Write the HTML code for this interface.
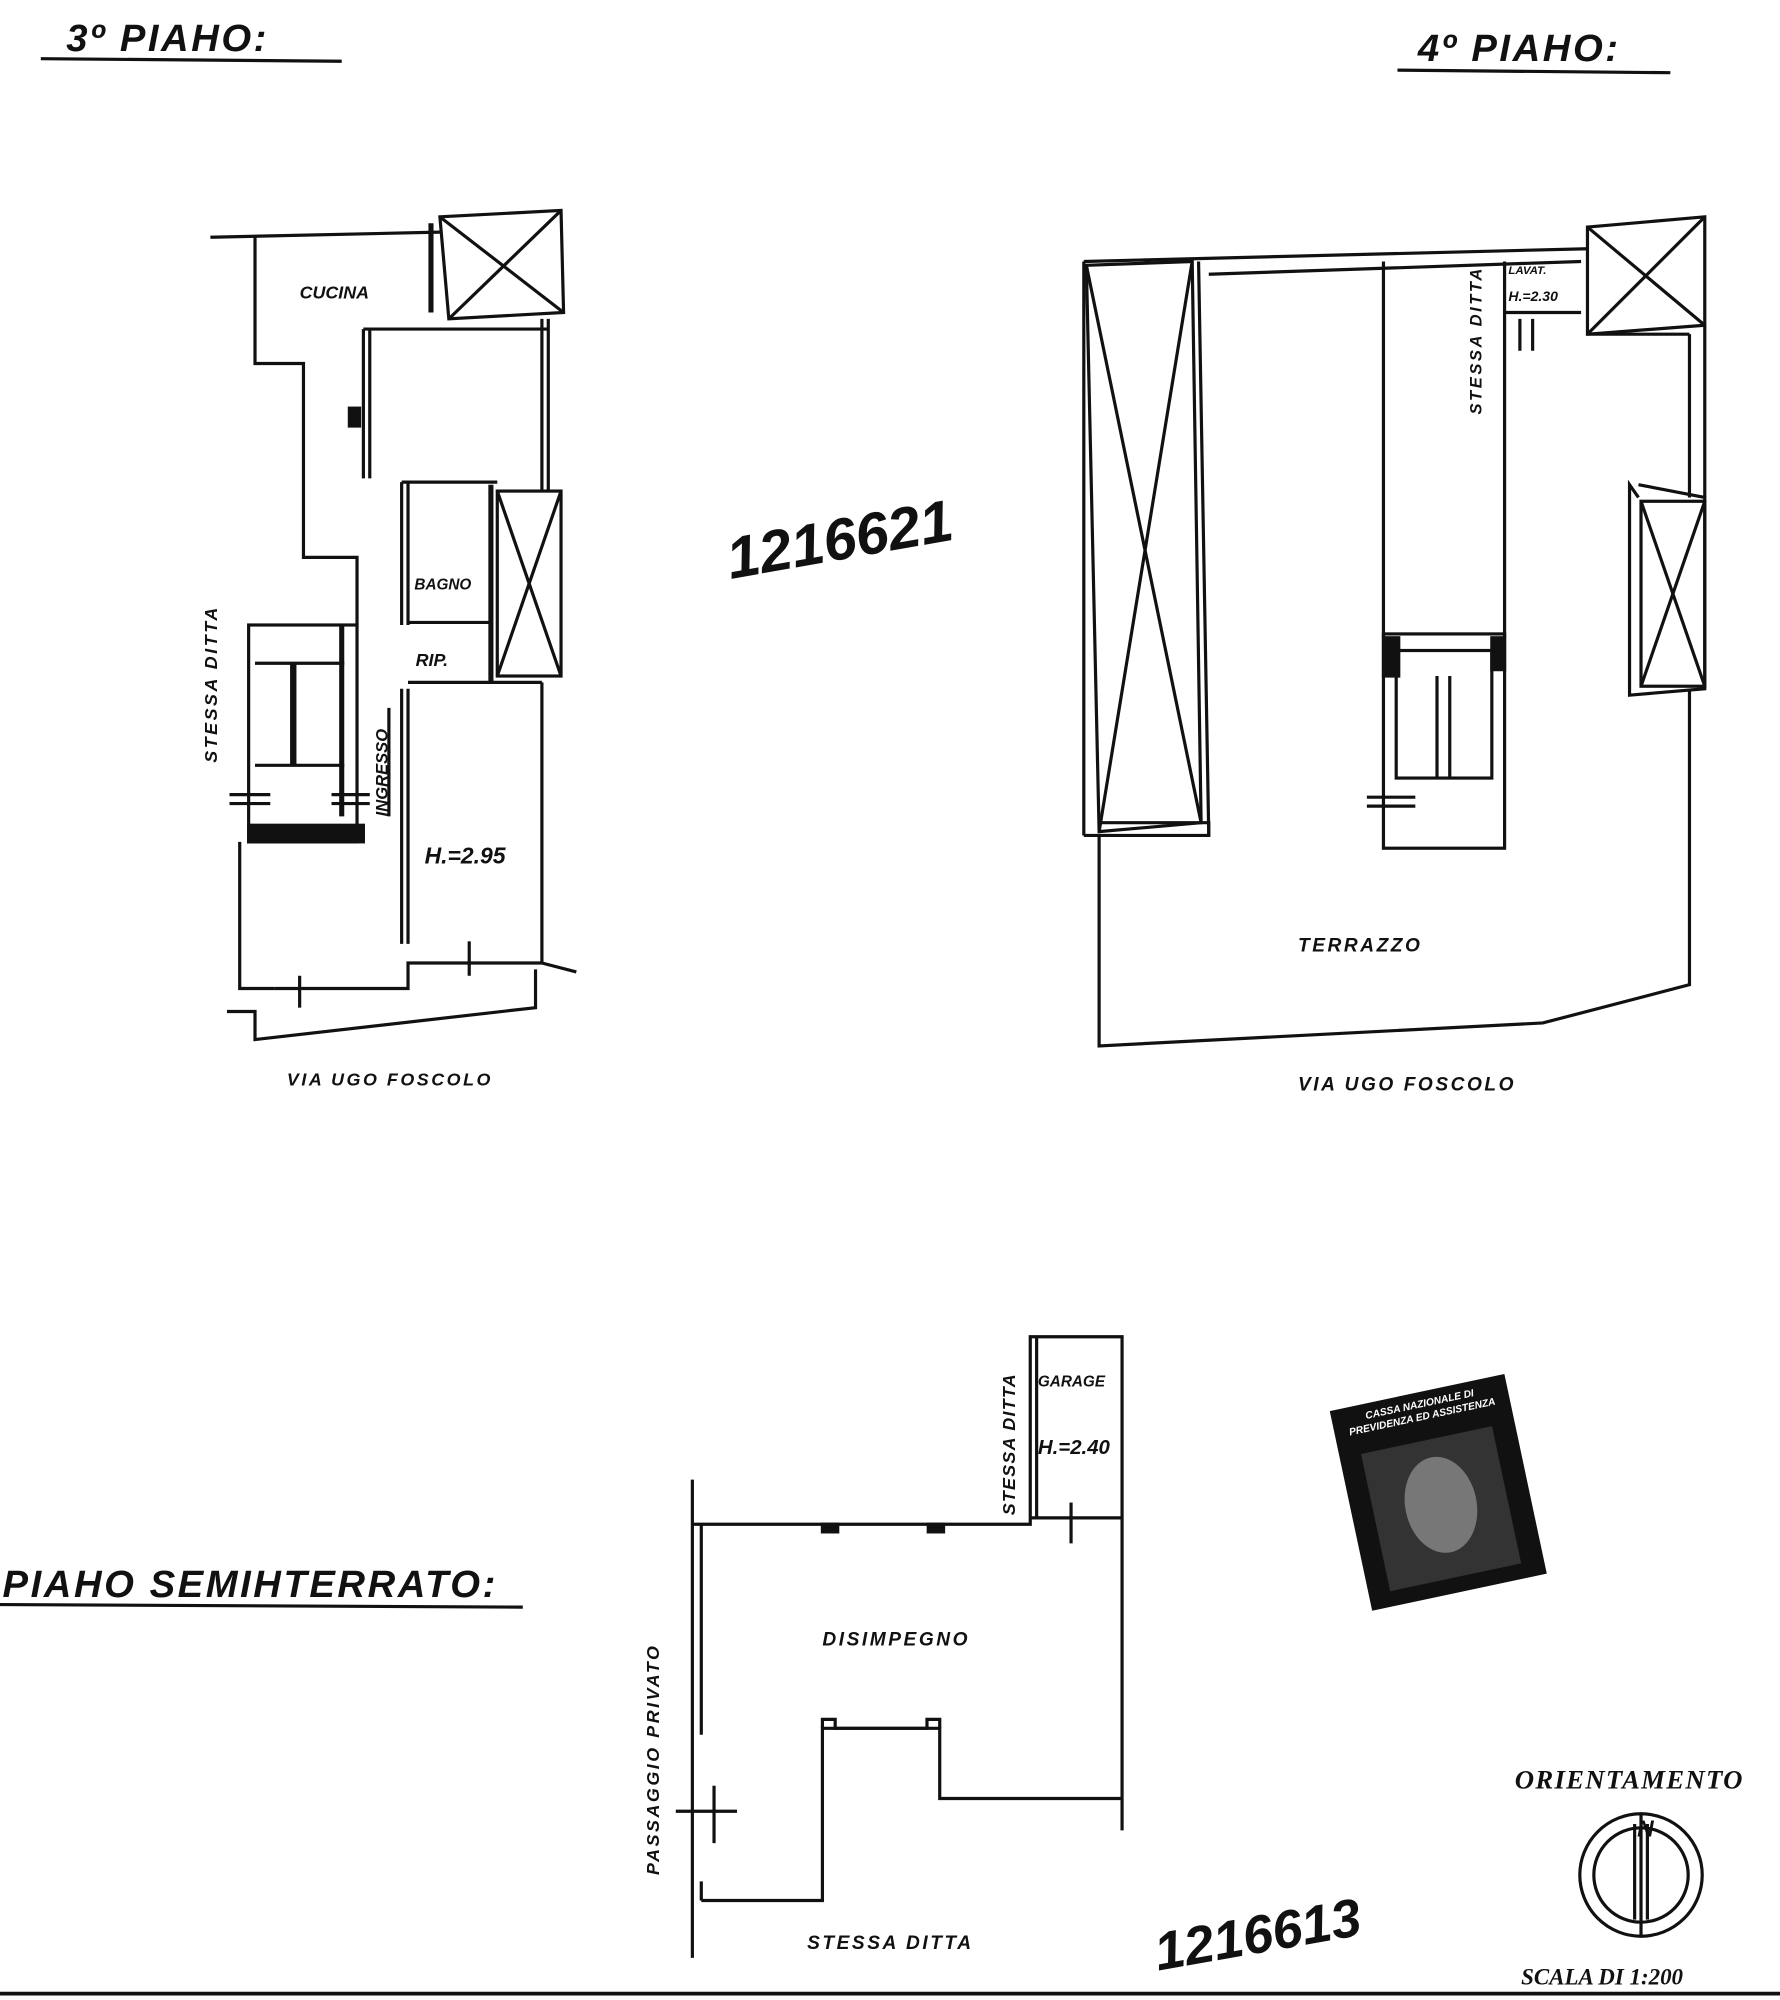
<!DOCTYPE html>
<html><head><meta charset="utf-8"><style>
html,body{margin:0;padding:0;background:#fff;}
svg{display:block;}
text{font-family:"Liberation Sans",sans-serif;font-style:italic;font-weight:bold;fill:#111;}
</style></head><body>
<svg width="1780" height="2000" viewBox="0 0 1396 1568" preserveAspectRatio="none" xmlns="http://www.w3.org/2000/svg">
<rect width="1396" height="1568" fill="#fff"/>
<g stroke="#111" fill="none" stroke-width="2.5">
<line x1="32" y1="46" x2="268" y2="48"/>
<line x1="1096" y1="55" x2="1310" y2="57"/>
<line x1="0" y1="1258" x2="410" y2="1260"/>
<line x1="0" y1="1563" x2="1396" y2="1563" stroke-width="3"/>

<polyline points="165,186 345,182"/>
<polyline points="200,186 200,285 238,285 238,437 280,437 280,490"/>
<rect x="195" y="490" width="85" height="170"/>
<rect x="195" y="647" width="90" height="13" fill="#111"/>
<line x1="230" y1="520" x2="230" y2="600" stroke-width="5"/>
<line x1="200" y1="520" x2="270" y2="520"/><line x1="200" y1="600" x2="270" y2="600"/>
<line x1="268" y1="490" x2="268" y2="640" stroke-width="4"/>
<polyline points="188,660 188,775 215,775"/>
<polyline points="178,793 200,793 200,815 420,790 420,760"/>
<polyline points="215,775 320,775 320,755 425,755"/>
<polyline points="425,755 452,762"/>
<line x1="285" y1="258" x2="285" y2="375"/><line x1="290" y1="258" x2="290" y2="375"/>
<line x1="285" y1="258" x2="430" y2="258"/>
<line x1="430" y1="250" x2="430" y2="385"/><line x1="425" y1="250" x2="425" y2="385"/>
<polygon points="345,170 440,165 442,245 352,250"/>
<line x1="345" y1="170" x2="442" y2="245"/><line x1="440" y1="165" x2="352" y2="250"/>
<line x1="338" y1="175" x2="338" y2="245" stroke-width="4"/>
<line x1="315" y1="378" x2="390" y2="378"/><line x1="315" y1="378" x2="315" y2="490"/><line x1="320" y1="378" x2="320" y2="490"/>
<line x1="320" y1="488" x2="385" y2="488"/>
<rect x="390" y="385" width="50" height="145"/>
<line x1="390" y1="385" x2="440" y2="530"/><line x1="440" y1="385" x2="390" y2="530"/>
<line x1="385" y1="380" x2="385" y2="535" stroke-width="4"/>
<line x1="320" y1="535" x2="425" y2="535"/>
<line x1="315" y1="540" x2="315" y2="740"/><line x1="320" y1="540" x2="320" y2="740"/>
<line x1="425" y1="535" x2="425" y2="755"/>
<line x1="305" y1="555" x2="305" y2="640"/>
<rect x="274" y="320" width="8" height="14" fill="#111"/>
<line x1="180" y1="623" x2="212" y2="623"/><line x1="180" y1="630" x2="212" y2="630"/>
<line x1="260" y1="623" x2="290" y2="623"/><line x1="260" y1="630" x2="290" y2="630"/>
<line x1="235" y1="765" x2="235" y2="790"/><line x1="368" y1="738" x2="368" y2="765"/>

<polyline points="850,205 1245,195"/>
<line x1="850" y1="205" x2="850" y2="655"/>
<polyline points="850,655 862,655 862,820 1210,802 1325,772 1325,540"/>
<line x1="1325" y1="390" x2="1325" y2="262"/><line x1="1337" y1="390" x2="1337" y2="255"/>
<line x1="1245" y1="262" x2="1325" y2="262"/>
<polyline points="1285,390 1278,380 1278,545 1337,540 1337,390 1285,380"/>
<rect x="1287" y="393" width="50" height="145"/>
<line x1="1287" y1="393" x2="1337" y2="538"/><line x1="1337" y1="393" x2="1287" y2="538"/>
<polygon points="1245,178 1337,170 1337,255 1245,262"/>
<line x1="1245" y1="178" x2="1337" y2="255"/><line x1="1337" y1="170" x2="1245" y2="262"/>
<polygon points="852,208 935,205 942,645 862,652"/>
<line x1="852" y1="208" x2="942" y2="645"/><line x1="935" y1="205" x2="862" y2="652"/>
<line x1="940" y1="205" x2="948" y2="655"/>
<polyline points="948,215 1240,205"/>
<polyline points="862,645 948,645 948,655 862,655"/>
<line x1="1085" y1="205" x2="1085" y2="500"/><line x1="1180" y1="205" x2="1180" y2="500"/>
<line x1="1180" y1="245" x2="1240" y2="245"/>
<rect x="1085" y="497" width="95" height="168"/>
<rect x="1095" y="510" width="75" height="100"/>
<line x1="1127" y1="530" x2="1127" y2="610"/><line x1="1137" y1="530" x2="1137" y2="610"/>
<rect x="1085" y="500" width="12" height="30" fill="#111"/><rect x="1170" y="500" width="10" height="25" fill="#111"/>
<line x1="1072" y1="625" x2="1110" y2="625"/><line x1="1072" y1="632" x2="1110" y2="632"/>
<line x1="1192" y1="250" x2="1192" y2="275"/><line x1="1202" y1="250" x2="1202" y2="275"/>

<line x1="543" y1="1160" x2="543" y2="1535"/>
<line x1="550" y1="1195" x2="550" y2="1360"/><line x1="550" y1="1475" x2="550" y2="1490"/>
<polyline points="543,1195 808,1195 808,1048 880,1048 880,1435"/>
<line x1="813" y1="1048" x2="813" y2="1190"/>
<line x1="808" y1="1190" x2="880" y2="1190"/>
<polyline points="550,1490 645,1490 645,1355 737,1355 737,1410 880,1410"/>
<polyline points="645,1355 645,1348 655,1348 655,1355 727,1355 727,1348 737,1348 737,1355"/>
<line x1="530" y1="1420" x2="578" y2="1420"/><line x1="560" y1="1400" x2="560" y2="1445"/>
<line x1="840" y1="1178" x2="840" y2="1210"/>
<rect x="645" y="1195" width="12" height="6" fill="#111"/><rect x="728" y="1195" width="12" height="6" fill="#111"/>

<circle cx="1287" cy="1470" r="48"/><circle cx="1287" cy="1470" r="37"/>
<line x1="1287" y1="1422" x2="1287" y2="1518"/>
<line x1="1282" y1="1430" x2="1282" y2="1505"/><line x1="1292" y1="1430" x2="1292" y2="1505"/>
</g>
<g transform="rotate(-12 1128 1170)">
<rect x="1058" y="1090" width="140" height="160" fill="#111"/>
<rect x="1075" y="1128" width="105" height="110" fill="#333"/>
<ellipse cx="1128" cy="1180" rx="28" ry="38" fill="#777"/>
<text x="1128" y="1102" font-size="8" text-anchor="middle" style="fill:#fff">CASSA NAZIONALE DI</text>
<text x="1128" y="1112" font-size="8" text-anchor="middle" style="fill:#fff">PREVIDENZA ED ASSISTENZA</text>
</g>
<text x="52" y="40" font-size="30" font-weight="normal" letter-spacing="2">3º PIAHO:</text>
<text x="1112" y="48" font-size="30" font-weight="normal" letter-spacing="2">4º PIAHO:</text>
<text x="2" y="1252" font-size="30" font-weight="normal" letter-spacing="2">PIAHO SEMIHTERRATO:</text>
<text x="235" y="234" font-size="14">CUCINA</text>
<text x="325" y="462" font-size="12">BAGNO</text>
<text x="326" y="522" font-size="14">RIP.</text>
<text x="333" y="677" font-size="18">H.=2.95</text>
<text x="225" y="851" font-size="14" letter-spacing="2">VIA UGO   FOSCOLO</text>
<text transform="translate(170,598) rotate(-90)" font-size="14" letter-spacing="2">STESSA   DITTA</text>
<text transform="translate(304,640) rotate(-90)" font-size="13">INGRESSO</text>
<text x="1018" y="746" font-size="15" letter-spacing="2">TERRAZZO</text>
<text x="1018" y="855" font-size="15" letter-spacing="2">VIA  UGO   FOSCOLO</text>
<text transform="translate(1162,325) rotate(-90)" font-size="13" letter-spacing="2">STESSA  DITTA</text>
<text x="1183" y="215" font-size="9">LAVAT.</text>
<text x="1183" y="236" font-size="11">H.=2.30</text>
<text x="645" y="1290" font-size="15" letter-spacing="2">DISIMPEGNO</text>
<text x="633" y="1528" font-size="15" letter-spacing="2">STESSA   DITTA</text>
<text transform="translate(517,1470) rotate(-90)" font-size="14" letter-spacing="2">PASSAGGIO   PRIVATO</text>
<text transform="translate(796,1188) rotate(-90)" font-size="14" letter-spacing="1">STESSA DITTA</text>
<text x="814" y="1087" font-size="12">GARAGE</text>
<text x="814" y="1140" font-size="16">H.=2.40</text>
<text x="565" y="438" font-size="46" font-style="normal" font-weight="normal" transform="rotate(-10 660 400)">1216621</text>
<text x="900" y="1530" font-size="42" font-style="normal" font-weight="normal" transform="rotate(-10 990 1490)">1216613</text>
<text x="1188" y="1402" font-size="21" letter-spacing="1" style="font-family:'Liberation Serif',serif">ORIENTAMENTO</text>
<text x="1193" y="1556" font-size="18" style="font-family:'Liberation Serif',serif">SCALA DI 1:200</text>
<text x="1284" y="1440" font-size="18">N</text>
</svg>
</body></html>
